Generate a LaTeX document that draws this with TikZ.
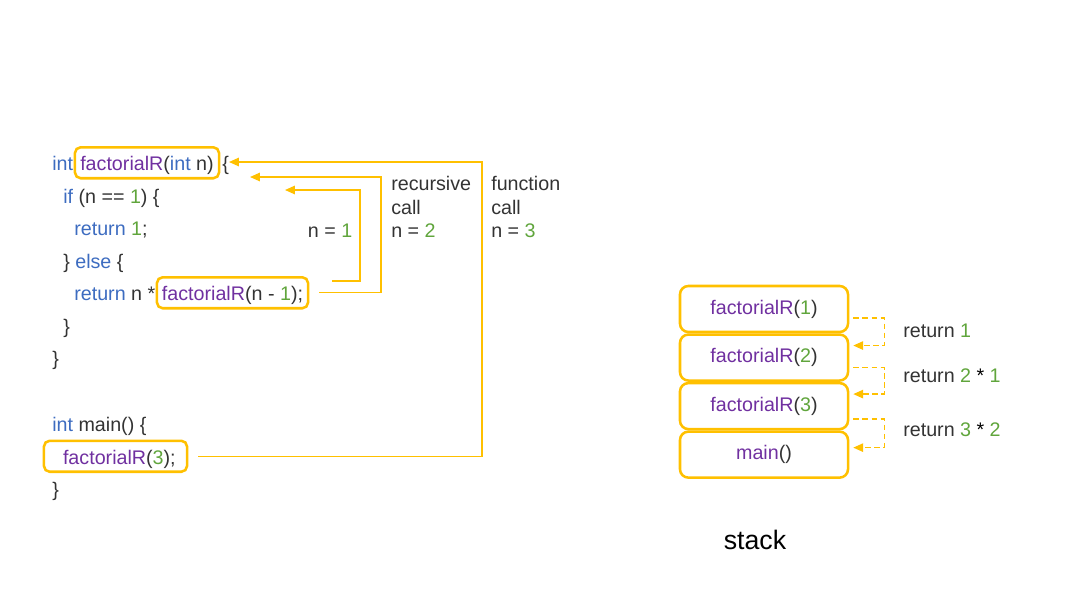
\documentclass[tikz,border=0pt]{standalone}
\usepackage{fontspec}
\setmainfont{Liberation Sans}
\usepackage{tikz}
\usetikzlibrary{arrows.meta, positioning, calc}
\usepackage{xcolor}
\definecolor{kwblue}{RGB}{61,108,192}
\definecolor{fnpurple}{RGB}{112,48,160}
\definecolor{numgreen}{RGB}{96,165,60}
\definecolor{codegray}{RGB}{51,51,51}
\definecolor{hlyellow}{RGB}{255,192,0}
\newcommand{\kwd}[1]{\textcolor{kwblue}{#1}}
\newcommand{\fnc}[1]{\textcolor{fnpurple}{#1}}
\newcommand{\nmb}[1]{\textcolor{numgreen}{#1}}
\tikzstyle{codeline} = [inner sep=0pt, anchor=base west, text=codegray]
\tikzstyle{hlbox} = [draw=hlyellow, line width=1.8pt, rounded corners=4pt, inner xsep=0pt, inner ysep=3pt, text height=13.5pt, text depth=2.5pt, anchor=base, text=codegray]
\tikzstyle{stackbox} = [draw=hlyellow, line width=1.8pt, rounded corners=6pt, minimum width=4.2cm, minimum height=1.15cm, text=codegray]
\tikzstyle{link} = [draw=hlyellow, line width=1pt, -{Triangle[length=7pt,width=6pt]}]
\tikzstyle{ret} = [link, dash pattern=on 4pt off 2.5pt]

\begin{document}
\begin{tikzpicture}[x=0.025cm, y=-0.025cm, font=\fontsize{14}{16.7}\selectfont]
    \useasboundingbox (0,0) rectangle (1067,600);

    % recursive function
    \node (l1) [codeline] at (52,170.5) {\kwd{int}};
    \node (f1) [hlbox, minimum width=3.6cm] at (147,170.5) {\fnc{factorialR}(\kwd{int} n)};
    \node (l1b) [codeline] at (222,170.5) {\{};
    \node (l2) [codeline] at (63,203) {\kwd{if} (n == \nmb{1}) \{};
    \node (l3) [codeline] at (74,235.5) {\kwd{return} \nmb{1};};
    \node (l4) [codeline] at (63,268) {\} \kwd{else} \{};
    \node (l5) [codeline] at (74,300.5) {\kwd{return} n *};
    \node (f2) [hlbox, minimum width=3.775cm] at (232.5,300.5) {\fnc{factorialR}(n - \nmb{1});};
    \node (l6) [codeline] at (63,333) {\}};
    \node (l7) [codeline] at (52,365.5) {\}};

    % main
    \node (m1) [codeline] at (52,431) {\kwd{int} main() \{};
    \node (f3) [hlbox, minimum width=3.575cm] at (115.5,464) {\hspace{5.5pt}\fnc{factorialR}(\nmb{3});};
    \node (m3) [codeline] at (52,496) {\}};

    % call labels
    \node (lab1) [codeline] at (307.7,237) {n = \nmb{1}};
    \node (lab2) [anchor=north west, inner sep=0pt, align=left, text=codegray] at (391,176) {recursive\\call\\n = \nmb{2}};
    \node (lab3) [anchor=north west, inner sep=0pt, align=left, text=codegray] at (491,176) {function\\call\\n = \nmb{3}};

    \coordinate (t3) at (229,162);
    \coordinate (t2) at (250,177);
    \coordinate (t1) at (285,190);
    \coordinate (k3) at (482,162);
    \coordinate (k2) at (381,177);
    \coordinate (k1) at (360,190);
    \coordinate (s1) at (332,281);

    \draw [link] ([xshift=7pt]f3.east) -| (k3) -- (t3);
    \draw [link] ([xshift=7pt]f2.east) -| (k2) -- (t2);
    \draw [link] (s1) -| (k1) -- (t1);

    % stack
    \node (st1) [stackbox] at (764,309) {\fnc{factorialR}(\nmb{1})};
    \node (st2) [stackbox, below=0pt of st1] {\fnc{factorialR}(\nmb{2})};
    \node (st3) [stackbox, below=0pt of st2] {\fnc{factorialR}(\nmb{3})};
    \node (st4) [stackbox, below=0pt of st3] {\fnc{main}()};

    \draw [ret] ($(st1.east)+(4,9)$) -- ++(31,0) |- ($(st2.east)+(4,-12)$);
    \draw [ret] ($(st2.east)+(4,10)$) -- ++(31,0) |- ($(st3.east)+(4,-12)$);
    \draw [ret] ($(st3.east)+(4,13)$) -- ++(31,0) |- ($(st4.east)+(4,-7)$);

    \node (r1) [codeline] at (903,337) {return \nmb{1}};
    \node (r2) [codeline] at (903,382) {return \nmb{2} \textcolor{black}{*} \nmb{1}};
    \node (r3) [codeline] at (903,436) {return \nmb{3} \textcolor{black}{*} \nmb{2}};

    \node (stk) [anchor=base, font=\fontsize{19}{22}\selectfont] at (755,549) {stack};
\end{tikzpicture}
\end{document}
